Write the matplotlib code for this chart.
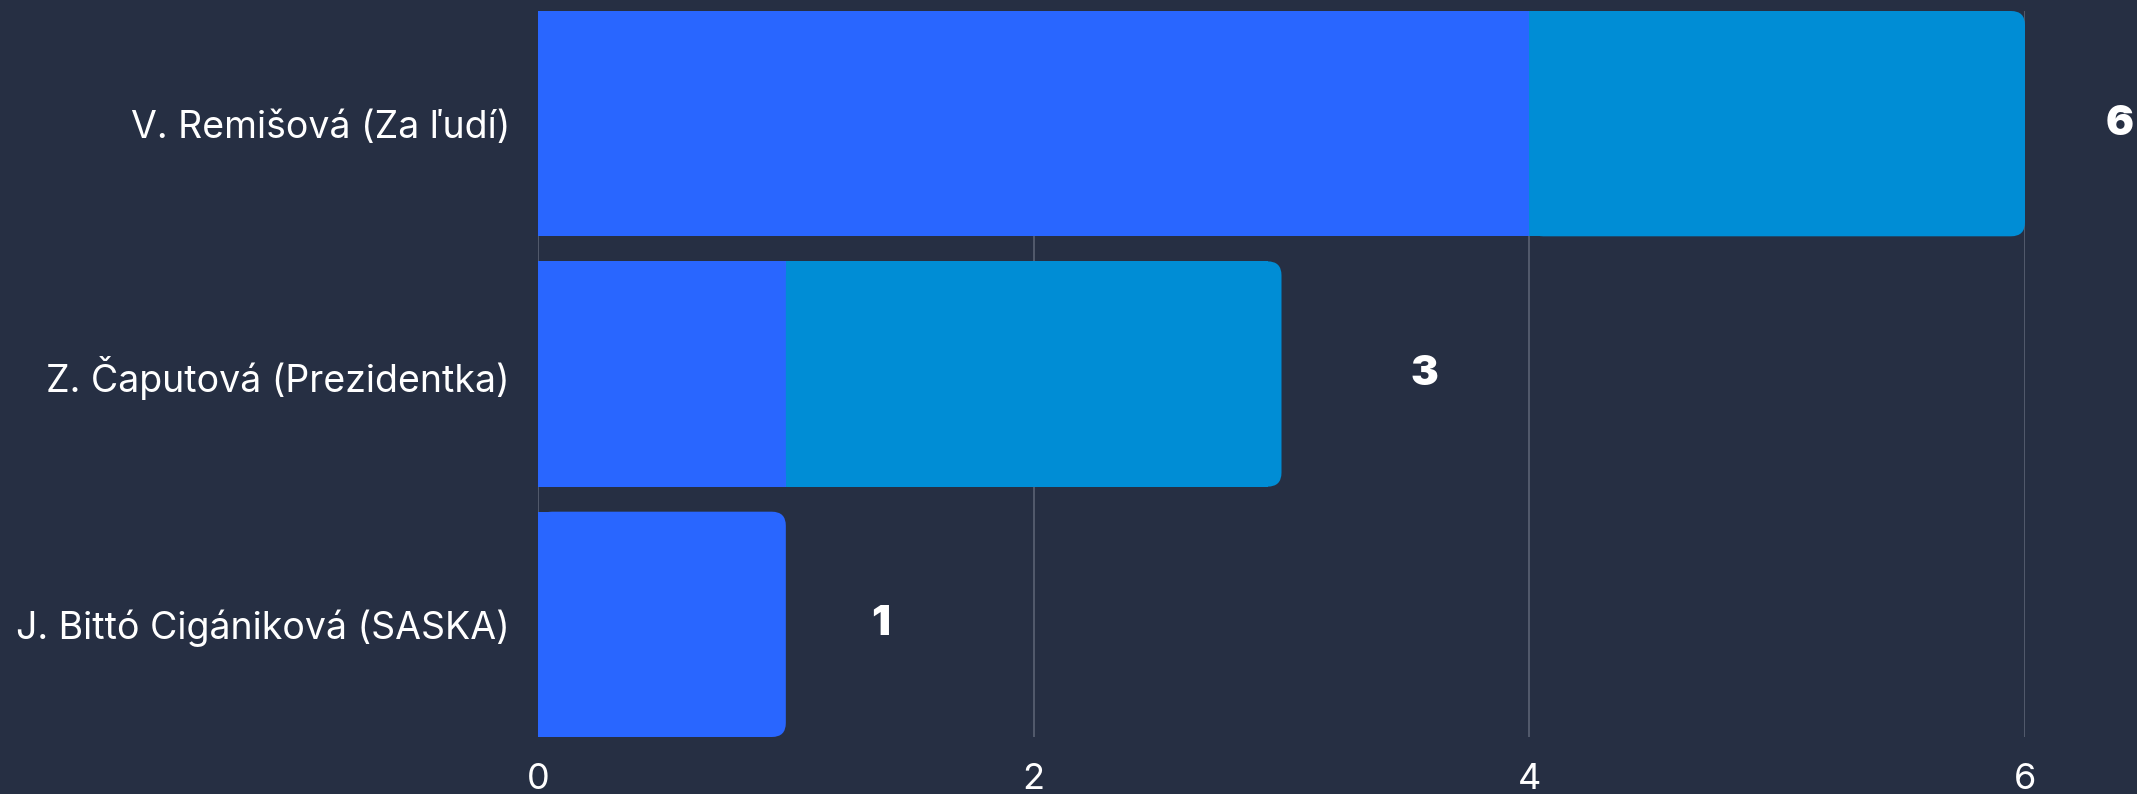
import numpy as np
import matplotlib
matplotlib.use("Agg")
import matplotlib.pyplot as plt
from matplotlib.patches import FancyBboxPatch

# ---- data ----
categories = ["V. Remišová (Za ľudí)", "Z. Čaputová (Prezidentka)", "J. Bittó Cigániková (SASKA)"]
series_a = [4, 1, 1]
series_b = [2, 2, 0]
totals = [6, 3, 1]
x_ticks = [0, 2, 4, 6]

# ---- style ----
BG = "#262F43"
BLUE = "#2966FF"
TEAL = "#008DD5"
GRID = "#5A6274"
label_offset_px = [95, 143, 95]

plt.rcParams['font.family'] = ['Inter', 'DejaVu Sans']

W, H, DPI = 2137, 794, 100
fig = plt.figure(figsize=(W / DPI, H / DPI), dpi=DPI, facecolor=BG)
ax = fig.add_axes([538 / W, 57 / H, (2025 - 538) / W, 726 / H])
ax.set_facecolor(BG)

y = np.arange(len(categories))
bar_h = 0.9
ax.set_xlim(0, 6)
ax.set_ylim(len(categories) - 1 + bar_h / 2, -bar_h / 2)

bars_a = ax.barh(y, series_a, height=bar_h, color=BLUE, zorder=2, linewidth=0)
bars_b = ax.barh(y, series_b, left=series_a, height=bar_h, color=TEAL, zorder=2, linewidth=0)

# rounded right corners on the outermost segment of each row
r_px = 14
x_per_px = 6 / (2025 - 538)
y_per_px = (len(categories) - 1 + bar_h) / 726
rx = r_px * x_per_px
ry = r_px * y_per_px
for i in range(len(categories)):
    rect = bars_b[i] if series_b[i] > 0 else bars_a[i]
    x0, y0 = rect.get_x(), rect.get_y()
    w, h = rect.get_width(), rect.get_height()
    rect.set_width(w - rx)
    p = FancyBboxPatch((x0, y0), w, h,
                       boxstyle=f"round,pad=0,rounding_size={rx}",
                       mutation_aspect=ry / rx,
                       facecolor=rect.get_facecolor(), edgecolor='none',
                       linewidth=0, zorder=2)
    ax.add_patch(p)
    ax.annotate(str(totals[i]), xy=(w + x0, i),
                xytext=(label_offset_px[i] * 72 / DPI, 0), textcoords='offset points',
                ha='center', va='center', fontsize=30, fontweight='black',
                color='white', annotation_clip=False)

ax.set_xticks(x_ticks)
ax.set_xticklabels([str(t) for t in x_ticks])
ax.set_yticks(y)
ax.set_yticklabels(categories)
ax.tick_params(axis='x', length=0, pad=18.5, labelsize=26, labelcolor='white')
ax.tick_params(axis='y', length=0, pad=20, labelsize=27, labelcolor='white')

ax.grid(axis='x', color=GRID, linewidth=1.2)
ax.grid(axis='y', visible=False)
ax.set_axisbelow(True)
for s in ax.spines.values():
    s.set_visible(False)

fig.savefig("out.png", dpi=DPI, facecolor=BG)
